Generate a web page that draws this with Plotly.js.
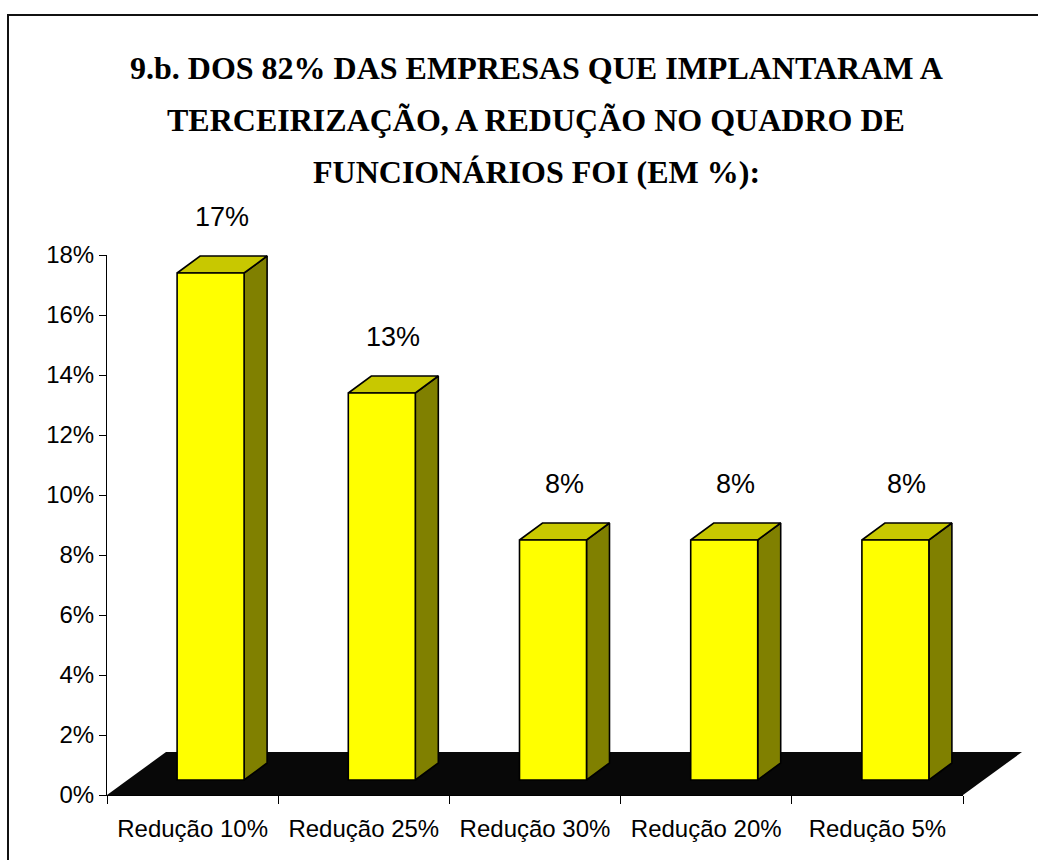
<!DOCTYPE html>
<html>
<head>
<meta charset="utf-8">
<script src="https://cdn.plot.ly/plotly-3.0.1.min.js"></script>
<style>html,body{margin:0;padding:0;background:#fff;}</style>
</head>
<body>
<div id="chart" style="width:1038px;height:860px;"></div>
<script>
// ---- data ----
const categories = ['Redução 10%', 'Redução 25%', 'Redução 30%', 'Redução 20%', 'Redução 5%'];
const values = [0.169, 0.129, 0.080, 0.080, 0.080];
const yTickVals = [0, 0.02, 0.04, 0.06, 0.08, 0.10, 0.12, 0.14, 0.16, 0.18];
const titleLines = [
  '9.b. DOS 82% DAS EMPRESAS QUE IMPLANTARAM A',
  'TERCEIRIZAÇÃO, A REDUÇÃO NO QUADRO DE',
  'FUNCIONÁRIOS FOI (EM %):'
];

// ---- geometry (3D look) ----
const W = 1038, H = 860;
const mL = 107, mR = 8, mT = 255, mB = 65;
const axisPx = 963 - 107;
const plotW = W - mL - mR;
const sx = axisPx / categories.length;
const sy = (H - mT - mB) / 0.18;
const xMax = -0.5 + plotW / sx;

const floorDx = 59 / sx, floorDy = 43 / sy;
const barOff = 18 / sx, barW = 67 / sx;
const base = 15 / sy;
const depDx = 23 / sx, depDy = 17 / sy;

const traces = [];
traces.push({
  type: 'bar', x: categories, y: values, base: base,
  width: barW, offset: barOff - barW / 2,
  xaxis: 'x2', yaxis: 'y',
  marker: {color: '#FFFF00', line: {color: '#000', width: 1.6}},
  hoverinfo: 'skip'
});
values.forEach((v, i) => {
  const xl = i + barOff - barW / 2, xr = i + barOff + barW / 2;
  const t = base + v;
  traces.push({
    type: 'scatter', mode: 'lines', fill: 'toself', fillcolor: '#808000',
    x: [xr, xr + depDx, xr + depDx, xr, xr],
    y: [base, base + depDy, t + depDy, t, base],
    line: {color: '#000', width: 1.6}, hoverinfo: 'skip', xaxis: 'x', yaxis: 'y'
  });
  traces.push({
    type: 'scatter', mode: 'lines', fill: 'toself', fillcolor: '#C8C800',
    x: [xl, xr, xr + depDx, xl + depDx, xl],
    y: [t, t, t + depDy, t + depDy, t],
    line: {color: '#000', width: 1.6}, hoverinfo: 'skip', xaxis: 'x', yaxis: 'y'
  });
});

const paperX = px => (px - mL) / plotW;
const paperY = py => (H - mB - py) / (H - mT - mB);

const annotations = titleLines.map((s, k) => ({
  text: '<b>' + s + '</b>', xref: 'paper', yref: 'paper',
  x: paperX(536), y: paperY(68 + 52 * k), xanchor: 'center', yanchor: 'middle',
  showarrow: false,
  font: {family: 'Liberation Serif, Times New Roman, serif', size: 32, color: '#000'}
}));
// data labels, anchored at the top of each bar
values.forEach((v, i) => {
  annotations.push({
    text: Math.round(v * 100) + '%', xref: 'x', yref: 'y',
    x: i + barOff + depDx / 2, y: base + v + depDy,
    xanchor: 'center', yanchor: 'middle', yshift: 39, showarrow: false,
    font: {family: 'Liberation Sans, Arial, sans-serif', size: 27, color: '#000'}
  });
});

const layout = {
  width: W, height: H,
  margin: {l: mL, r: mR, t: mT, b: mB, pad: 0},
  paper_bgcolor: '#fff', plot_bgcolor: 'rgba(0,0,0,0)',
  showlegend: false, hovermode: false,
  xaxis: {domain: [0, 1], range: [-0.5, xMax], visible: false, fixedrange: true},
  xaxis2: {
    domain: [0, axisPx / plotW], anchor: 'y', type: 'category',
    range: [-0.5, categories.length - 0.5],
    tickson: 'boundaries', ticks: 'outside', ticklen: 8, tickcolor: '#000', tickwidth: 1,
    ticklabelstandoff: 12,
    showline: true, linecolor: '#000', linewidth: 1, showgrid: false, zeroline: false,
    tickfont: {family: 'Liberation Sans, Arial, sans-serif', size: 24, color: '#000'},
    fixedrange: true
  },
  yaxis: {
    domain: [0, 1], range: [0, 0.18], anchor: 'x',
    tickvals: yTickVals, tickformat: '.0%',
    ticks: 'outside', ticklen: 7, tickcolor: '#000', tickwidth: 1,
    showline: true, linecolor: '#000', linewidth: 1, showgrid: false, zeroline: false,
    tickfont: {family: 'Liberation Sans, Arial, sans-serif', size: 24, color: '#000'},
    fixedrange: true
  },
  shapes: [
    {type: 'path', xref: 'x', yref: 'y', layer: 'below',
     path: `M -0.5,0 L 4.5,0 L ${4.5 + floorDx},${floorDy} L ${-0.5 + floorDx},${floorDy} Z`,
     fillcolor: '#080808', line: {width: 0}},
    {type: 'rect', xref: 'paper', yref: 'paper',
     x0: paperX(8), x1: paperX(W + 20), y0: paperY(15), y1: paperY(H + 20),
     line: {color: '#111', width: 2}, fillcolor: 'rgba(0,0,0,0)'}
  ],
  annotations: annotations
};

Plotly.newPlot('chart', traces, layout, {displayModeBar: false, staticPlot: true});
</script>
</body>
</html>
